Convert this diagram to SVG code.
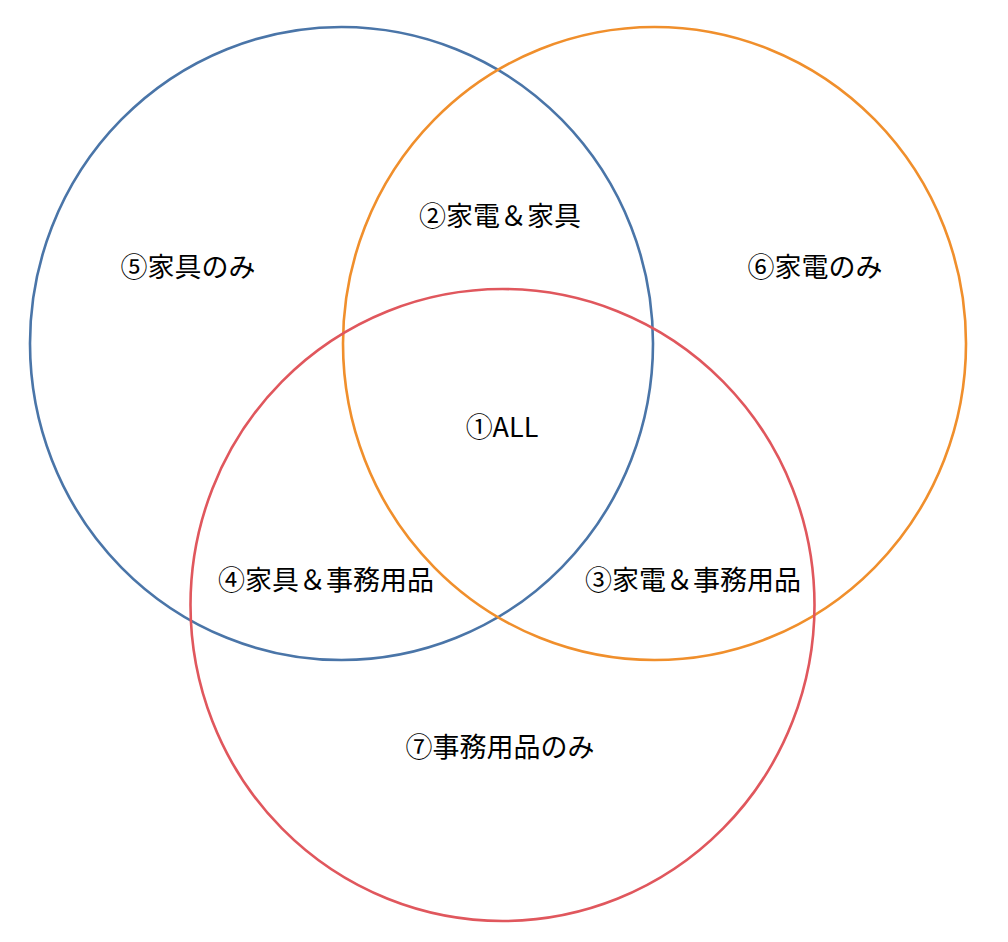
<svg xmlns="http://www.w3.org/2000/svg" width="1008" height="942" viewBox="0 0 1008 942">
<style>
.c{fill:none;stroke-width:2.6}
.t{font-family:"Noto Sans CJK JP","Noto Sans CJK SC",sans-serif;font-size:27px;fill:#000;text-anchor:middle;dominant-baseline:central}
</style>
<rect width="1008" height="942" fill="#fff"/>
<g id="sets">
<g id="furniture"><ellipse class="c" cx="341.5" cy="343.5" rx="311.5" ry="316.5" stroke="#4a75a8"/></g>
<g id="appliances"><ellipse class="c" cx="654.5" cy="343.5" rx="311.5" ry="316.5" stroke="#f08f2c"/></g>
<g id="office"><ellipse class="c" cx="502.5" cy="605" rx="312" ry="316" stroke="#e0575d"/></g>
</g>
<g id="labels">
<g id="r5"><text class="t" x="188" y="265">⑤家具のみ</text></g>
<g id="r2"><text class="t" x="500" y="214">②家電＆家具</text></g>
<g id="r6"><text class="t" x="815" y="265">⑥家電のみ</text></g>
<g id="r1"><text class="t" x="502" y="425">①ALL</text></g>
<g id="r4"><text class="t" x="326" y="578">④家具＆事務用品</text></g>
<g id="r3"><text class="t" x="693" y="578">③家電＆事務用品</text></g>
<g id="r7"><text class="t" x="500" y="745">⑦事務用品のみ</text></g>
</g>
</svg>
